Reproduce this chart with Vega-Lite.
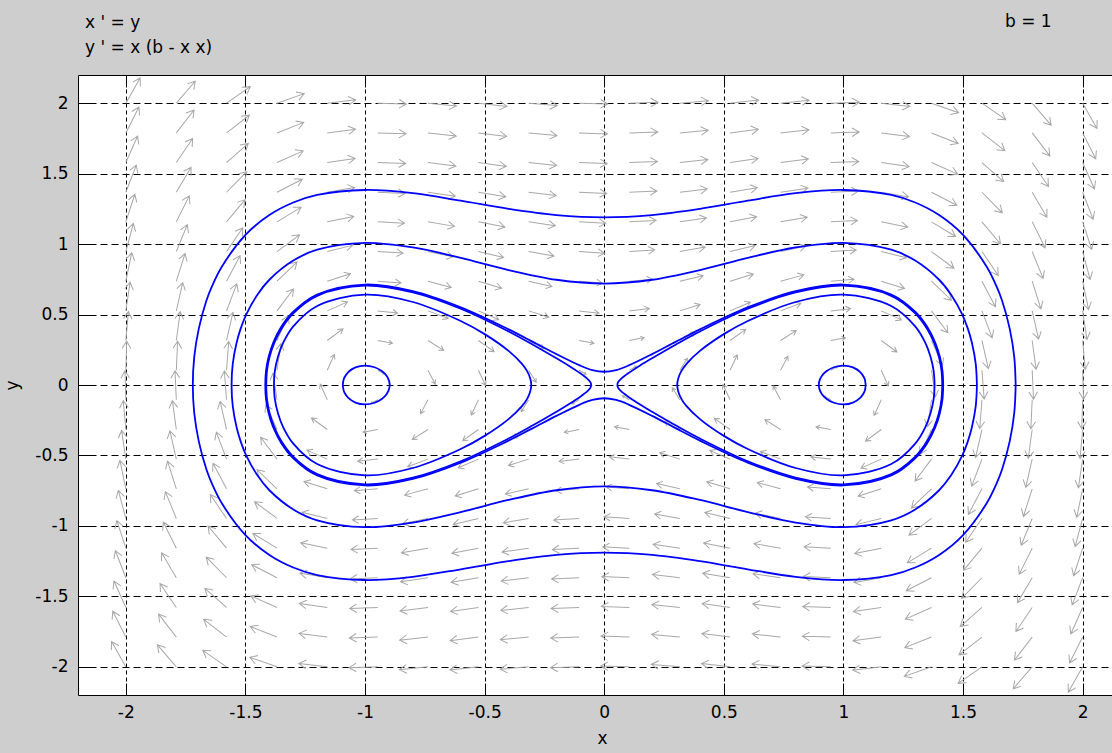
{
"$schema": "https://vega.github.io/schema/vega-lite/v6.json",
"width": 1034,
"height": 620,
"autosize": "none",
"padding": {"left": 78, "top": 75, "right": 0, "bottom": 58},
"background": "#cecece",
"config": {"view": {"stroke": null, "fill": "#ffffff"}, "font": "DejaVu Sans"},
"datasets": {
"field": [
{"x":-2,"y":2,"u":2,"v":6},{"x":-1.789,"y":2,"u":2,"v":3.941},{"x":-1.579,"y":2,"u":2,"v":2.357},{"x":-1.368,"y":2,"u":2,"v":1.194},{"x":-1.158,"y":2,"u":2,"v":0.395},{"x":-0.947,"y":2,"u":2,"v":-0.097},{"x":-0.737,"y":2,"u":2,"v":-0.337},{"x":-0.526,"y":2,"u":2,"v":-0.381},{"x":-0.316,"y":2,"u":2,"v":-0.284},{"x":-0.105,"y":2,"u":2,"v":-0.104},{"x":0.105,"y":2,"u":2,"v":0.104},{"x":0.316,"y":2,"u":2,"v":0.284},{"x":0.526,"y":2,"u":2,"v":0.381},{"x":0.737,"y":2,"u":2,"v":0.337},{"x":0.947,"y":2,"u":2,"v":0.097},{"x":1.158,"y":2,"u":2,"v":-0.395},{"x":1.368,"y":2,"u":2,"v":-1.194},{"x":1.579,"y":2,"u":2,"v":-2.357},{"x":1.789,"y":2,"u":2,"v":-3.941},{"x":2,"y":2,"u":2,"v":-6},
{"x":-2,"y":1.789,"u":1.789,"v":6},{"x":-1.789,"y":1.789,"u":1.789,"v":3.941},{"x":-1.579,"y":1.789,"u":1.789,"v":2.357},{"x":-1.368,"y":1.789,"u":1.789,"v":1.194},{"x":-1.158,"y":1.789,"u":1.789,"v":0.395},{"x":-0.947,"y":1.789,"u":1.789,"v":-0.097},{"x":-0.737,"y":1.789,"u":1.789,"v":-0.337},{"x":-0.526,"y":1.789,"u":1.789,"v":-0.381},{"x":-0.316,"y":1.789,"u":1.789,"v":-0.284},{"x":-0.105,"y":1.789,"u":1.789,"v":-0.104},{"x":0.105,"y":1.789,"u":1.789,"v":0.104},{"x":0.316,"y":1.789,"u":1.789,"v":0.284},{"x":0.526,"y":1.789,"u":1.789,"v":0.381},{"x":0.737,"y":1.789,"u":1.789,"v":0.337},{"x":0.947,"y":1.789,"u":1.789,"v":0.097},{"x":1.158,"y":1.789,"u":1.789,"v":-0.395},{"x":1.368,"y":1.789,"u":1.789,"v":-1.194},{"x":1.579,"y":1.789,"u":1.789,"v":-2.357},{"x":1.789,"y":1.789,"u":1.789,"v":-3.941},{"x":2,"y":1.789,"u":1.789,"v":-6},
{"x":-2,"y":1.579,"u":1.579,"v":6},{"x":-1.789,"y":1.579,"u":1.579,"v":3.941},{"x":-1.579,"y":1.579,"u":1.579,"v":2.357},{"x":-1.368,"y":1.579,"u":1.579,"v":1.194},{"x":-1.158,"y":1.579,"u":1.579,"v":0.395},{"x":-0.947,"y":1.579,"u":1.579,"v":-0.097},{"x":-0.737,"y":1.579,"u":1.579,"v":-0.337},{"x":-0.526,"y":1.579,"u":1.579,"v":-0.381},{"x":-0.316,"y":1.579,"u":1.579,"v":-0.284},{"x":-0.105,"y":1.579,"u":1.579,"v":-0.104},{"x":0.105,"y":1.579,"u":1.579,"v":0.104},{"x":0.316,"y":1.579,"u":1.579,"v":0.284},{"x":0.526,"y":1.579,"u":1.579,"v":0.381},{"x":0.737,"y":1.579,"u":1.579,"v":0.337},{"x":0.947,"y":1.579,"u":1.579,"v":0.097},{"x":1.158,"y":1.579,"u":1.579,"v":-0.395},{"x":1.368,"y":1.579,"u":1.579,"v":-1.194},{"x":1.579,"y":1.579,"u":1.579,"v":-2.357},{"x":1.789,"y":1.579,"u":1.579,"v":-3.941},{"x":2,"y":1.579,"u":1.579,"v":-6},
{"x":-2,"y":1.368,"u":1.368,"v":6},{"x":-1.789,"y":1.368,"u":1.368,"v":3.941},{"x":-1.579,"y":1.368,"u":1.368,"v":2.357},{"x":-1.368,"y":1.368,"u":1.368,"v":1.194},{"x":-1.158,"y":1.368,"u":1.368,"v":0.395},{"x":-0.947,"y":1.368,"u":1.368,"v":-0.097},{"x":-0.737,"y":1.368,"u":1.368,"v":-0.337},{"x":-0.526,"y":1.368,"u":1.368,"v":-0.381},{"x":-0.316,"y":1.368,"u":1.368,"v":-0.284},{"x":-0.105,"y":1.368,"u":1.368,"v":-0.104},{"x":0.105,"y":1.368,"u":1.368,"v":0.104},{"x":0.316,"y":1.368,"u":1.368,"v":0.284},{"x":0.526,"y":1.368,"u":1.368,"v":0.381},{"x":0.737,"y":1.368,"u":1.368,"v":0.337},{"x":0.947,"y":1.368,"u":1.368,"v":0.097},{"x":1.158,"y":1.368,"u":1.368,"v":-0.395},{"x":1.368,"y":1.368,"u":1.368,"v":-1.194},{"x":1.579,"y":1.368,"u":1.368,"v":-2.357},{"x":1.789,"y":1.368,"u":1.368,"v":-3.941},{"x":2,"y":1.368,"u":1.368,"v":-6},
{"x":-2,"y":1.158,"u":1.158,"v":6},{"x":-1.789,"y":1.158,"u":1.158,"v":3.941},{"x":-1.579,"y":1.158,"u":1.158,"v":2.357},{"x":-1.368,"y":1.158,"u":1.158,"v":1.194},{"x":-1.158,"y":1.158,"u":1.158,"v":0.395},{"x":-0.947,"y":1.158,"u":1.158,"v":-0.097},{"x":-0.737,"y":1.158,"u":1.158,"v":-0.337},{"x":-0.526,"y":1.158,"u":1.158,"v":-0.381},{"x":-0.316,"y":1.158,"u":1.158,"v":-0.284},{"x":-0.105,"y":1.158,"u":1.158,"v":-0.104},{"x":0.105,"y":1.158,"u":1.158,"v":0.104},{"x":0.316,"y":1.158,"u":1.158,"v":0.284},{"x":0.526,"y":1.158,"u":1.158,"v":0.381},{"x":0.737,"y":1.158,"u":1.158,"v":0.337},{"x":0.947,"y":1.158,"u":1.158,"v":0.097},{"x":1.158,"y":1.158,"u":1.158,"v":-0.395},{"x":1.368,"y":1.158,"u":1.158,"v":-1.194},{"x":1.579,"y":1.158,"u":1.158,"v":-2.357},{"x":1.789,"y":1.158,"u":1.158,"v":-3.941},{"x":2,"y":1.158,"u":1.158,"v":-6},
{"x":-2,"y":0.947,"u":0.947,"v":6},{"x":-1.789,"y":0.947,"u":0.947,"v":3.941},{"x":-1.579,"y":0.947,"u":0.947,"v":2.357},{"x":-1.368,"y":0.947,"u":0.947,"v":1.194},{"x":-1.158,"y":0.947,"u":0.947,"v":0.395},{"x":-0.947,"y":0.947,"u":0.947,"v":-0.097},{"x":-0.737,"y":0.947,"u":0.947,"v":-0.337},{"x":-0.526,"y":0.947,"u":0.947,"v":-0.381},{"x":-0.316,"y":0.947,"u":0.947,"v":-0.284},{"x":-0.105,"y":0.947,"u":0.947,"v":-0.104},{"x":0.105,"y":0.947,"u":0.947,"v":0.104},{"x":0.316,"y":0.947,"u":0.947,"v":0.284},{"x":0.526,"y":0.947,"u":0.947,"v":0.381},{"x":0.737,"y":0.947,"u":0.947,"v":0.337},{"x":0.947,"y":0.947,"u":0.947,"v":0.097},{"x":1.158,"y":0.947,"u":0.947,"v":-0.395},{"x":1.368,"y":0.947,"u":0.947,"v":-1.194},{"x":1.579,"y":0.947,"u":0.947,"v":-2.357},{"x":1.789,"y":0.947,"u":0.947,"v":-3.941},{"x":2,"y":0.947,"u":0.947,"v":-6},
{"x":-2,"y":0.737,"u":0.737,"v":6},{"x":-1.789,"y":0.737,"u":0.737,"v":3.941},{"x":-1.579,"y":0.737,"u":0.737,"v":2.357},{"x":-1.368,"y":0.737,"u":0.737,"v":1.194},{"x":-1.158,"y":0.737,"u":0.737,"v":0.395},{"x":-0.947,"y":0.737,"u":0.737,"v":-0.097},{"x":-0.737,"y":0.737,"u":0.737,"v":-0.337},{"x":-0.526,"y":0.737,"u":0.737,"v":-0.381},{"x":-0.316,"y":0.737,"u":0.737,"v":-0.284},{"x":-0.105,"y":0.737,"u":0.737,"v":-0.104},{"x":0.105,"y":0.737,"u":0.737,"v":0.104},{"x":0.316,"y":0.737,"u":0.737,"v":0.284},{"x":0.526,"y":0.737,"u":0.737,"v":0.381},{"x":0.737,"y":0.737,"u":0.737,"v":0.337},{"x":0.947,"y":0.737,"u":0.737,"v":0.097},{"x":1.158,"y":0.737,"u":0.737,"v":-0.395},{"x":1.368,"y":0.737,"u":0.737,"v":-1.194},{"x":1.579,"y":0.737,"u":0.737,"v":-2.357},{"x":1.789,"y":0.737,"u":0.737,"v":-3.941},{"x":2,"y":0.737,"u":0.737,"v":-6},
{"x":-2,"y":0.526,"u":0.526,"v":6},{"x":-1.789,"y":0.526,"u":0.526,"v":3.941},{"x":-1.579,"y":0.526,"u":0.526,"v":2.357},{"x":-1.368,"y":0.526,"u":0.526,"v":1.194},{"x":-1.158,"y":0.526,"u":0.526,"v":0.395},{"x":-0.947,"y":0.526,"u":0.526,"v":-0.097},{"x":-0.737,"y":0.526,"u":0.526,"v":-0.337},{"x":-0.526,"y":0.526,"u":0.526,"v":-0.381},{"x":-0.316,"y":0.526,"u":0.526,"v":-0.284},{"x":-0.105,"y":0.526,"u":0.526,"v":-0.104},{"x":0.105,"y":0.526,"u":0.526,"v":0.104},{"x":0.316,"y":0.526,"u":0.526,"v":0.284},{"x":0.526,"y":0.526,"u":0.526,"v":0.381},{"x":0.737,"y":0.526,"u":0.526,"v":0.337},{"x":0.947,"y":0.526,"u":0.526,"v":0.097},{"x":1.158,"y":0.526,"u":0.526,"v":-0.395},{"x":1.368,"y":0.526,"u":0.526,"v":-1.194},{"x":1.579,"y":0.526,"u":0.526,"v":-2.357},{"x":1.789,"y":0.526,"u":0.526,"v":-3.941},{"x":2,"y":0.526,"u":0.526,"v":-6},
{"x":-2,"y":0.316,"u":0.316,"v":6},{"x":-1.789,"y":0.316,"u":0.316,"v":3.941},{"x":-1.579,"y":0.316,"u":0.316,"v":2.357},{"x":-1.368,"y":0.316,"u":0.316,"v":1.194},{"x":-1.158,"y":0.316,"u":0.316,"v":0.395},{"x":-0.947,"y":0.316,"u":0.316,"v":-0.097},{"x":-0.737,"y":0.316,"u":0.316,"v":-0.337},{"x":-0.526,"y":0.316,"u":0.316,"v":-0.381},{"x":-0.316,"y":0.316,"u":0.316,"v":-0.284},{"x":-0.105,"y":0.316,"u":0.316,"v":-0.104},{"x":0.105,"y":0.316,"u":0.316,"v":0.104},{"x":0.316,"y":0.316,"u":0.316,"v":0.284},{"x":0.526,"y":0.316,"u":0.316,"v":0.381},{"x":0.737,"y":0.316,"u":0.316,"v":0.337},{"x":0.947,"y":0.316,"u":0.316,"v":0.097},{"x":1.158,"y":0.316,"u":0.316,"v":-0.395},{"x":1.368,"y":0.316,"u":0.316,"v":-1.194},{"x":1.579,"y":0.316,"u":0.316,"v":-2.357},{"x":1.789,"y":0.316,"u":0.316,"v":-3.941},{"x":2,"y":0.316,"u":0.316,"v":-6},
{"x":-2,"y":0.105,"u":0.105,"v":6},{"x":-1.789,"y":0.105,"u":0.105,"v":3.941},{"x":-1.579,"y":0.105,"u":0.105,"v":2.357},{"x":-1.368,"y":0.105,"u":0.105,"v":1.194},{"x":-1.158,"y":0.105,"u":0.105,"v":0.395},{"x":-0.947,"y":0.105,"u":0.105,"v":-0.097},{"x":-0.737,"y":0.105,"u":0.105,"v":-0.337},{"x":-0.526,"y":0.105,"u":0.105,"v":-0.381},{"x":-0.316,"y":0.105,"u":0.105,"v":-0.284},{"x":-0.105,"y":0.105,"u":0.105,"v":-0.104},{"x":0.105,"y":0.105,"u":0.105,"v":0.104},{"x":0.316,"y":0.105,"u":0.105,"v":0.284},{"x":0.526,"y":0.105,"u":0.105,"v":0.381},{"x":0.737,"y":0.105,"u":0.105,"v":0.337},{"x":0.947,"y":0.105,"u":0.105,"v":0.097},{"x":1.158,"y":0.105,"u":0.105,"v":-0.395},{"x":1.368,"y":0.105,"u":0.105,"v":-1.194},{"x":1.579,"y":0.105,"u":0.105,"v":-2.357},{"x":1.789,"y":0.105,"u":0.105,"v":-3.941},{"x":2,"y":0.105,"u":0.105,"v":-6},
{"x":-2,"y":-0.105,"u":-0.105,"v":6},{"x":-1.789,"y":-0.105,"u":-0.105,"v":3.941},{"x":-1.579,"y":-0.105,"u":-0.105,"v":2.357},{"x":-1.368,"y":-0.105,"u":-0.105,"v":1.194},{"x":-1.158,"y":-0.105,"u":-0.105,"v":0.395},{"x":-0.947,"y":-0.105,"u":-0.105,"v":-0.097},{"x":-0.737,"y":-0.105,"u":-0.105,"v":-0.337},{"x":-0.526,"y":-0.105,"u":-0.105,"v":-0.381},{"x":-0.316,"y":-0.105,"u":-0.105,"v":-0.284},{"x":-0.105,"y":-0.105,"u":-0.105,"v":-0.104},{"x":0.105,"y":-0.105,"u":-0.105,"v":0.104},{"x":0.316,"y":-0.105,"u":-0.105,"v":0.284},{"x":0.526,"y":-0.105,"u":-0.105,"v":0.381},{"x":0.737,"y":-0.105,"u":-0.105,"v":0.337},{"x":0.947,"y":-0.105,"u":-0.105,"v":0.097},{"x":1.158,"y":-0.105,"u":-0.105,"v":-0.395},{"x":1.368,"y":-0.105,"u":-0.105,"v":-1.194},{"x":1.579,"y":-0.105,"u":-0.105,"v":-2.357},{"x":1.789,"y":-0.105,"u":-0.105,"v":-3.941},{"x":2,"y":-0.105,"u":-0.105,"v":-6},
{"x":-2,"y":-0.316,"u":-0.316,"v":6},{"x":-1.789,"y":-0.316,"u":-0.316,"v":3.941},{"x":-1.579,"y":-0.316,"u":-0.316,"v":2.357},{"x":-1.368,"y":-0.316,"u":-0.316,"v":1.194},{"x":-1.158,"y":-0.316,"u":-0.316,"v":0.395},{"x":-0.947,"y":-0.316,"u":-0.316,"v":-0.097},{"x":-0.737,"y":-0.316,"u":-0.316,"v":-0.337},{"x":-0.526,"y":-0.316,"u":-0.316,"v":-0.381},{"x":-0.316,"y":-0.316,"u":-0.316,"v":-0.284},{"x":-0.105,"y":-0.316,"u":-0.316,"v":-0.104},{"x":0.105,"y":-0.316,"u":-0.316,"v":0.104},{"x":0.316,"y":-0.316,"u":-0.316,"v":0.284},{"x":0.526,"y":-0.316,"u":-0.316,"v":0.381},{"x":0.737,"y":-0.316,"u":-0.316,"v":0.337},{"x":0.947,"y":-0.316,"u":-0.316,"v":0.097},{"x":1.158,"y":-0.316,"u":-0.316,"v":-0.395},{"x":1.368,"y":-0.316,"u":-0.316,"v":-1.194},{"x":1.579,"y":-0.316,"u":-0.316,"v":-2.357},{"x":1.789,"y":-0.316,"u":-0.316,"v":-3.941},{"x":2,"y":-0.316,"u":-0.316,"v":-6},
{"x":-2,"y":-0.526,"u":-0.526,"v":6},{"x":-1.789,"y":-0.526,"u":-0.526,"v":3.941},{"x":-1.579,"y":-0.526,"u":-0.526,"v":2.357},{"x":-1.368,"y":-0.526,"u":-0.526,"v":1.194},{"x":-1.158,"y":-0.526,"u":-0.526,"v":0.395},{"x":-0.947,"y":-0.526,"u":-0.526,"v":-0.097},{"x":-0.737,"y":-0.526,"u":-0.526,"v":-0.337},{"x":-0.526,"y":-0.526,"u":-0.526,"v":-0.381},{"x":-0.316,"y":-0.526,"u":-0.526,"v":-0.284},{"x":-0.105,"y":-0.526,"u":-0.526,"v":-0.104},{"x":0.105,"y":-0.526,"u":-0.526,"v":0.104},{"x":0.316,"y":-0.526,"u":-0.526,"v":0.284},{"x":0.526,"y":-0.526,"u":-0.526,"v":0.381},{"x":0.737,"y":-0.526,"u":-0.526,"v":0.337},{"x":0.947,"y":-0.526,"u":-0.526,"v":0.097},{"x":1.158,"y":-0.526,"u":-0.526,"v":-0.395},{"x":1.368,"y":-0.526,"u":-0.526,"v":-1.194},{"x":1.579,"y":-0.526,"u":-0.526,"v":-2.357},{"x":1.789,"y":-0.526,"u":-0.526,"v":-3.941},{"x":2,"y":-0.526,"u":-0.526,"v":-6},
{"x":-2,"y":-0.737,"u":-0.737,"v":6},{"x":-1.789,"y":-0.737,"u":-0.737,"v":3.941},{"x":-1.579,"y":-0.737,"u":-0.737,"v":2.357},{"x":-1.368,"y":-0.737,"u":-0.737,"v":1.194},{"x":-1.158,"y":-0.737,"u":-0.737,"v":0.395},{"x":-0.947,"y":-0.737,"u":-0.737,"v":-0.097},{"x":-0.737,"y":-0.737,"u":-0.737,"v":-0.337},{"x":-0.526,"y":-0.737,"u":-0.737,"v":-0.381},{"x":-0.316,"y":-0.737,"u":-0.737,"v":-0.284},{"x":-0.105,"y":-0.737,"u":-0.737,"v":-0.104},{"x":0.105,"y":-0.737,"u":-0.737,"v":0.104},{"x":0.316,"y":-0.737,"u":-0.737,"v":0.284},{"x":0.526,"y":-0.737,"u":-0.737,"v":0.381},{"x":0.737,"y":-0.737,"u":-0.737,"v":0.337},{"x":0.947,"y":-0.737,"u":-0.737,"v":0.097},{"x":1.158,"y":-0.737,"u":-0.737,"v":-0.395},{"x":1.368,"y":-0.737,"u":-0.737,"v":-1.194},{"x":1.579,"y":-0.737,"u":-0.737,"v":-2.357},{"x":1.789,"y":-0.737,"u":-0.737,"v":-3.941},{"x":2,"y":-0.737,"u":-0.737,"v":-6},
{"x":-2,"y":-0.947,"u":-0.947,"v":6},{"x":-1.789,"y":-0.947,"u":-0.947,"v":3.941},{"x":-1.579,"y":-0.947,"u":-0.947,"v":2.357},{"x":-1.368,"y":-0.947,"u":-0.947,"v":1.194},{"x":-1.158,"y":-0.947,"u":-0.947,"v":0.395},{"x":-0.947,"y":-0.947,"u":-0.947,"v":-0.097},{"x":-0.737,"y":-0.947,"u":-0.947,"v":-0.337},{"x":-0.526,"y":-0.947,"u":-0.947,"v":-0.381},{"x":-0.316,"y":-0.947,"u":-0.947,"v":-0.284},{"x":-0.105,"y":-0.947,"u":-0.947,"v":-0.104},{"x":0.105,"y":-0.947,"u":-0.947,"v":0.104},{"x":0.316,"y":-0.947,"u":-0.947,"v":0.284},{"x":0.526,"y":-0.947,"u":-0.947,"v":0.381},{"x":0.737,"y":-0.947,"u":-0.947,"v":0.337},{"x":0.947,"y":-0.947,"u":-0.947,"v":0.097},{"x":1.158,"y":-0.947,"u":-0.947,"v":-0.395},{"x":1.368,"y":-0.947,"u":-0.947,"v":-1.194},{"x":1.579,"y":-0.947,"u":-0.947,"v":-2.357},{"x":1.789,"y":-0.947,"u":-0.947,"v":-3.941},{"x":2,"y":-0.947,"u":-0.947,"v":-6},
{"x":-2,"y":-1.158,"u":-1.158,"v":6},{"x":-1.789,"y":-1.158,"u":-1.158,"v":3.941},{"x":-1.579,"y":-1.158,"u":-1.158,"v":2.357},{"x":-1.368,"y":-1.158,"u":-1.158,"v":1.194},{"x":-1.158,"y":-1.158,"u":-1.158,"v":0.395},{"x":-0.947,"y":-1.158,"u":-1.158,"v":-0.097},{"x":-0.737,"y":-1.158,"u":-1.158,"v":-0.337},{"x":-0.526,"y":-1.158,"u":-1.158,"v":-0.381},{"x":-0.316,"y":-1.158,"u":-1.158,"v":-0.284},{"x":-0.105,"y":-1.158,"u":-1.158,"v":-0.104},{"x":0.105,"y":-1.158,"u":-1.158,"v":0.104},{"x":0.316,"y":-1.158,"u":-1.158,"v":0.284},{"x":0.526,"y":-1.158,"u":-1.158,"v":0.381},{"x":0.737,"y":-1.158,"u":-1.158,"v":0.337},{"x":0.947,"y":-1.158,"u":-1.158,"v":0.097},{"x":1.158,"y":-1.158,"u":-1.158,"v":-0.395},{"x":1.368,"y":-1.158,"u":-1.158,"v":-1.194},{"x":1.579,"y":-1.158,"u":-1.158,"v":-2.357},{"x":1.789,"y":-1.158,"u":-1.158,"v":-3.941},{"x":2,"y":-1.158,"u":-1.158,"v":-6},
{"x":-2,"y":-1.368,"u":-1.368,"v":6},{"x":-1.789,"y":-1.368,"u":-1.368,"v":3.941},{"x":-1.579,"y":-1.368,"u":-1.368,"v":2.357},{"x":-1.368,"y":-1.368,"u":-1.368,"v":1.194},{"x":-1.158,"y":-1.368,"u":-1.368,"v":0.395},{"x":-0.947,"y":-1.368,"u":-1.368,"v":-0.097},{"x":-0.737,"y":-1.368,"u":-1.368,"v":-0.337},{"x":-0.526,"y":-1.368,"u":-1.368,"v":-0.381},{"x":-0.316,"y":-1.368,"u":-1.368,"v":-0.284},{"x":-0.105,"y":-1.368,"u":-1.368,"v":-0.104},{"x":0.105,"y":-1.368,"u":-1.368,"v":0.104},{"x":0.316,"y":-1.368,"u":-1.368,"v":0.284},{"x":0.526,"y":-1.368,"u":-1.368,"v":0.381},{"x":0.737,"y":-1.368,"u":-1.368,"v":0.337},{"x":0.947,"y":-1.368,"u":-1.368,"v":0.097},{"x":1.158,"y":-1.368,"u":-1.368,"v":-0.395},{"x":1.368,"y":-1.368,"u":-1.368,"v":-1.194},{"x":1.579,"y":-1.368,"u":-1.368,"v":-2.357},{"x":1.789,"y":-1.368,"u":-1.368,"v":-3.941},{"x":2,"y":-1.368,"u":-1.368,"v":-6},
{"x":-2,"y":-1.579,"u":-1.579,"v":6},{"x":-1.789,"y":-1.579,"u":-1.579,"v":3.941},{"x":-1.579,"y":-1.579,"u":-1.579,"v":2.357},{"x":-1.368,"y":-1.579,"u":-1.579,"v":1.194},{"x":-1.158,"y":-1.579,"u":-1.579,"v":0.395},{"x":-0.947,"y":-1.579,"u":-1.579,"v":-0.097},{"x":-0.737,"y":-1.579,"u":-1.579,"v":-0.337},{"x":-0.526,"y":-1.579,"u":-1.579,"v":-0.381},{"x":-0.316,"y":-1.579,"u":-1.579,"v":-0.284},{"x":-0.105,"y":-1.579,"u":-1.579,"v":-0.104},{"x":0.105,"y":-1.579,"u":-1.579,"v":0.104},{"x":0.316,"y":-1.579,"u":-1.579,"v":0.284},{"x":0.526,"y":-1.579,"u":-1.579,"v":0.381},{"x":0.737,"y":-1.579,"u":-1.579,"v":0.337},{"x":0.947,"y":-1.579,"u":-1.579,"v":0.097},{"x":1.158,"y":-1.579,"u":-1.579,"v":-0.395},{"x":1.368,"y":-1.579,"u":-1.579,"v":-1.194},{"x":1.579,"y":-1.579,"u":-1.579,"v":-2.357},{"x":1.789,"y":-1.579,"u":-1.579,"v":-3.941},{"x":2,"y":-1.579,"u":-1.579,"v":-6},
{"x":-2,"y":-1.789,"u":-1.789,"v":6},{"x":-1.789,"y":-1.789,"u":-1.789,"v":3.941},{"x":-1.579,"y":-1.789,"u":-1.789,"v":2.357},{"x":-1.368,"y":-1.789,"u":-1.789,"v":1.194},{"x":-1.158,"y":-1.789,"u":-1.789,"v":0.395},{"x":-0.947,"y":-1.789,"u":-1.789,"v":-0.097},{"x":-0.737,"y":-1.789,"u":-1.789,"v":-0.337},{"x":-0.526,"y":-1.789,"u":-1.789,"v":-0.381},{"x":-0.316,"y":-1.789,"u":-1.789,"v":-0.284},{"x":-0.105,"y":-1.789,"u":-1.789,"v":-0.104},{"x":0.105,"y":-1.789,"u":-1.789,"v":0.104},{"x":0.316,"y":-1.789,"u":-1.789,"v":0.284},{"x":0.526,"y":-1.789,"u":-1.789,"v":0.381},{"x":0.737,"y":-1.789,"u":-1.789,"v":0.337},{"x":0.947,"y":-1.789,"u":-1.789,"v":0.097},{"x":1.158,"y":-1.789,"u":-1.789,"v":-0.395},{"x":1.368,"y":-1.789,"u":-1.789,"v":-1.194},{"x":1.579,"y":-1.789,"u":-1.789,"v":-2.357},{"x":1.789,"y":-1.789,"u":-1.789,"v":-3.941},{"x":2,"y":-1.789,"u":-1.789,"v":-6},
{"x":-2,"y":-2,"u":-2,"v":6},{"x":-1.789,"y":-2,"u":-2,"v":3.941},{"x":-1.579,"y":-2,"u":-2,"v":2.357},{"x":-1.368,"y":-2,"u":-2,"v":1.194},{"x":-1.158,"y":-2,"u":-2,"v":0.395},{"x":-0.947,"y":-2,"u":-2,"v":-0.097},{"x":-0.737,"y":-2,"u":-2,"v":-0.337},{"x":-0.526,"y":-2,"u":-2,"v":-0.381},{"x":-0.316,"y":-2,"u":-2,"v":-0.284},{"x":-0.105,"y":-2,"u":-2,"v":-0.104},{"x":0.105,"y":-2,"u":-2,"v":0.104},{"x":0.316,"y":-2,"u":-2,"v":0.284},{"x":0.526,"y":-2,"u":-2,"v":0.381},{"x":0.737,"y":-2,"u":-2,"v":0.337},{"x":0.947,"y":-2,"u":-2,"v":0.097},{"x":1.158,"y":-2,"u":-2,"v":-0.395},{"x":1.368,"y":-2,"u":-2,"v":-1.194},{"x":1.579,"y":-2,"u":-2,"v":-2.357},{"x":1.789,"y":-2,"u":-2,"v":-3.941},{"x":2,"y":-2,"u":-2,"v":-6}
],
"traj": [
{"c":"A","i":0,"x":1.72,"y":0},{"c":"A","i":1,"x":1.714,"y":0.2},{"c":"A","i":2,"x":1.695,"y":0.4},{"c":"A","i":3,"x":1.663,"y":0.6},{"c":"A","i":4,"x":1.64,"y":0.7},{"c":"A","i":5,"x":1.6,"y":0.836},{"c":"A","i":6,"x":1.5,"y":1.065},{"c":"A","i":7,"x":1.4,"y":1.206},{"c":"A","i":8,"x":1.3,"y":1.295},{"c":"A","i":9,"x":1.2,"y":1.349},{"c":"A","i":10,"x":1.0,"y":1.384},{"c":"A","i":11,"x":0.8,"y":1.361},{"c":"A","i":12,"x":0.6,"y":1.308},{"c":"A","i":13,"x":0.4,"y":1.25},{"c":"A","i":14,"x":0.2,"y":1.206},{"c":"A","i":15,"x":0,"y":1.19},{"c":"A","i":16,"x":-0.2,"y":1.206},{"c":"A","i":17,"x":-0.4,"y":1.25},{"c":"A","i":18,"x":-0.6,"y":1.308},{"c":"A","i":19,"x":-0.8,"y":1.361},{"c":"A","i":20,"x":-1.0,"y":1.384},{"c":"A","i":21,"x":-1.2,"y":1.349},{"c":"A","i":22,"x":-1.3,"y":1.295},{"c":"A","i":23,"x":-1.4,"y":1.206},{"c":"A","i":24,"x":-1.5,"y":1.065},{"c":"A","i":25,"x":-1.6,"y":0.836},{"c":"A","i":26,"x":-1.64,"y":0.7},{"c":"A","i":27,"x":-1.663,"y":0.6},{"c":"A","i":28,"x":-1.695,"y":0.4},{"c":"A","i":29,"x":-1.714,"y":0.2},{"c":"A","i":30,"x":-1.72,"y":0},{"c":"A","i":31,"x":-1.714,"y":-0.2},{"c":"A","i":32,"x":-1.695,"y":-0.4},{"c":"A","i":33,"x":-1.663,"y":-0.6},{"c":"A","i":34,"x":-1.64,"y":-0.7},{"c":"A","i":35,"x":-1.6,"y":-0.836},{"c":"A","i":36,"x":-1.5,"y":-1.065},{"c":"A","i":37,"x":-1.4,"y":-1.206},{"c":"A","i":38,"x":-1.3,"y":-1.295},{"c":"A","i":39,"x":-1.2,"y":-1.349},{"c":"A","i":40,"x":-1.0,"y":-1.384},{"c":"A","i":41,"x":-0.8,"y":-1.361},{"c":"A","i":42,"x":-0.6,"y":-1.308},{"c":"A","i":43,"x":-0.4,"y":-1.25},{"c":"A","i":44,"x":-0.2,"y":-1.206},{"c":"A","i":45,"x":0,"y":-1.19},{"c":"A","i":46,"x":0.2,"y":-1.206},{"c":"A","i":47,"x":0.4,"y":-1.25},{"c":"A","i":48,"x":0.6,"y":-1.308},{"c":"A","i":49,"x":0.8,"y":-1.361},{"c":"A","i":50,"x":1.0,"y":-1.384},{"c":"A","i":51,"x":1.2,"y":-1.349},{"c":"A","i":52,"x":1.3,"y":-1.295},{"c":"A","i":53,"x":1.4,"y":-1.206},{"c":"A","i":54,"x":1.5,"y":-1.065},{"c":"A","i":55,"x":1.6,"y":-0.836},{"c":"A","i":56,"x":1.64,"y":-0.7},{"c":"A","i":57,"x":1.663,"y":-0.6},{"c":"A","i":58,"x":1.695,"y":-0.4},{"c":"A","i":59,"x":1.714,"y":-0.2},{"c":"A","i":60,"x":1.72,"y":0},
{"c":"B","i":0,"x":1.558,"y":0},{"c":"B","i":1,"x":1.553,"y":0.15},{"c":"B","i":2,"x":1.537,"y":0.3},{"c":"B","i":3,"x":1.52,"y":0.4},{"c":"B","i":4,"x":1.497,"y":0.5},{"c":"B","i":5,"x":1.45,"y":0.641},{"c":"B","i":6,"x":1.4,"y":0.747},{"c":"B","i":7,"x":1.3,"y":0.883},{"c":"B","i":8,"x":1.2,"y":0.96},{"c":"B","i":9,"x":1,"y":1.009},{"c":"B","i":10,"x":0.8,"y":0.976},{"c":"B","i":11,"x":0.6,"y":0.902},{"c":"B","i":12,"x":0.4,"y":0.816},{"c":"B","i":13,"x":0.2,"y":0.747},{"c":"B","i":14,"x":0,"y":0.72},{"c":"B","i":15,"x":-0.2,"y":0.747},{"c":"B","i":16,"x":-0.4,"y":0.816},{"c":"B","i":17,"x":-0.6,"y":0.902},{"c":"B","i":18,"x":-0.8,"y":0.976},{"c":"B","i":19,"x":-1,"y":1.009},{"c":"B","i":20,"x":-1.2,"y":0.96},{"c":"B","i":21,"x":-1.3,"y":0.883},{"c":"B","i":22,"x":-1.4,"y":0.747},{"c":"B","i":23,"x":-1.45,"y":0.641},{"c":"B","i":24,"x":-1.497,"y":0.5},{"c":"B","i":25,"x":-1.52,"y":0.4},{"c":"B","i":26,"x":-1.537,"y":0.3},{"c":"B","i":27,"x":-1.553,"y":0.15},{"c":"B","i":28,"x":-1.558,"y":0},{"c":"B","i":29,"x":-1.553,"y":-0.15},{"c":"B","i":30,"x":-1.537,"y":-0.3},{"c":"B","i":31,"x":-1.52,"y":-0.4},{"c":"B","i":32,"x":-1.497,"y":-0.5},{"c":"B","i":33,"x":-1.45,"y":-0.641},{"c":"B","i":34,"x":-1.4,"y":-0.747},{"c":"B","i":35,"x":-1.3,"y":-0.883},{"c":"B","i":36,"x":-1.2,"y":-0.96},{"c":"B","i":37,"x":-1,"y":-1.009},{"c":"B","i":38,"x":-0.8,"y":-0.976},{"c":"B","i":39,"x":-0.6,"y":-0.902},{"c":"B","i":40,"x":-0.4,"y":-0.816},{"c":"B","i":41,"x":-0.2,"y":-0.747},{"c":"B","i":42,"x":0,"y":-0.72},{"c":"B","i":43,"x":0.2,"y":-0.747},{"c":"B","i":44,"x":0.4,"y":-0.816},{"c":"B","i":45,"x":0.6,"y":-0.902},{"c":"B","i":46,"x":0.8,"y":-0.976},{"c":"B","i":47,"x":1,"y":-1.009},{"c":"B","i":48,"x":1.2,"y":-0.96},{"c":"B","i":49,"x":1.3,"y":-0.883},{"c":"B","i":50,"x":1.4,"y":-0.747},{"c":"B","i":51,"x":1.45,"y":-0.641},{"c":"B","i":52,"x":1.497,"y":-0.5},{"c":"B","i":53,"x":1.52,"y":-0.4},{"c":"B","i":54,"x":1.537,"y":-0.3},{"c":"B","i":55,"x":1.553,"y":-0.15},{"c":"B","i":56,"x":1.558,"y":0},
{"c":"C","i":0,"x":1.417,"y":0},{"c":"C","i":1,"x":1.414,"y":0.1},{"c":"C","i":2,"x":1.403,"y":0.2},{"c":"C","i":3,"x":1.384,"y":0.3},{"c":"C","i":4,"x":1.35,"y":0.413},{"c":"C","i":5,"x":1.3,"y":0.52},{"c":"C","i":6,"x":1.2,"y":0.642},{"c":"C","i":7,"x":1,"y":0.713},{"c":"C","i":8,"x":0.8,"y":0.666},{"c":"C","i":9,"x":0.6,"y":0.551},{"c":"C","i":10,"x":0.4,"y":0.395},{"c":"C","i":11,"x":0.3,"y":0.308},{"c":"C","i":12,"x":0.2,"y":0.219},{"c":"C","i":13,"x":0.1,"y":0.137},{"c":"C","i":14,"x":0.05,"y":0.106},{"c":"C","i":15,"x":0,"y":0.094},{"c":"C","i":16,"x":-0.05,"y":0.106},{"c":"C","i":17,"x":-0.1,"y":0.137},{"c":"C","i":18,"x":-0.2,"y":0.219},{"c":"C","i":19,"x":-0.3,"y":0.308},{"c":"C","i":20,"x":-0.4,"y":0.395},{"c":"C","i":21,"x":-0.6,"y":0.551},{"c":"C","i":22,"x":-0.8,"y":0.666},{"c":"C","i":23,"x":-1,"y":0.713},{"c":"C","i":24,"x":-1.2,"y":0.642},{"c":"C","i":25,"x":-1.3,"y":0.52},{"c":"C","i":26,"x":-1.35,"y":0.413},{"c":"C","i":27,"x":-1.384,"y":0.3},{"c":"C","i":28,"x":-1.403,"y":0.2},{"c":"C","i":29,"x":-1.414,"y":0.1},{"c":"C","i":30,"x":-1.417,"y":0},{"c":"C","i":31,"x":-1.414,"y":-0.1},{"c":"C","i":32,"x":-1.403,"y":-0.2},{"c":"C","i":33,"x":-1.384,"y":-0.3},{"c":"C","i":34,"x":-1.35,"y":-0.413},{"c":"C","i":35,"x":-1.3,"y":-0.52},{"c":"C","i":36,"x":-1.2,"y":-0.642},{"c":"C","i":37,"x":-1,"y":-0.713},{"c":"C","i":38,"x":-0.8,"y":-0.666},{"c":"C","i":39,"x":-0.6,"y":-0.551},{"c":"C","i":40,"x":-0.4,"y":-0.395},{"c":"C","i":41,"x":-0.3,"y":-0.308},{"c":"C","i":42,"x":-0.2,"y":-0.219},{"c":"C","i":43,"x":-0.1,"y":-0.137},{"c":"C","i":44,"x":-0.05,"y":-0.106},{"c":"C","i":45,"x":0,"y":-0.094},{"c":"C","i":46,"x":0.05,"y":-0.106},{"c":"C","i":47,"x":0.1,"y":-0.137},{"c":"C","i":48,"x":0.2,"y":-0.219},{"c":"C","i":49,"x":0.3,"y":-0.308},{"c":"C","i":50,"x":0.4,"y":-0.395},{"c":"C","i":51,"x":0.6,"y":-0.551},{"c":"C","i":52,"x":0.8,"y":-0.666},{"c":"C","i":53,"x":1,"y":-0.713},{"c":"C","i":54,"x":1.2,"y":-0.642},{"c":"C","i":55,"x":1.3,"y":-0.52},{"c":"C","i":56,"x":1.35,"y":-0.413},{"c":"C","i":57,"x":1.384,"y":-0.3},{"c":"C","i":58,"x":1.403,"y":-0.2},{"c":"C","i":59,"x":1.414,"y":-0.1},{"c":"C","i":60,"x":1.417,"y":0},
{"c":"DR","i":0,"x":1.413,"y":0},{"c":"DR","i":1,"x":1.41,"y":0.1},{"c":"DR","i":2,"x":1.399,"y":0.2},{"c":"DR","i":3,"x":1.379,"y":0.3},{"c":"DR","i":4,"x":1.35,"y":0.398},{"c":"DR","i":5,"x":1.3,"y":0.509},{"c":"DR","i":6,"x":1.2,"y":0.633},{"c":"DR","i":7,"x":1,"y":0.705},{"c":"DR","i":8,"x":0.8,"y":0.657},{"c":"DR","i":9,"x":0.6,"y":0.541},{"c":"DR","i":10,"x":0.4,"y":0.38},{"c":"DR","i":11,"x":0.3,"y":0.288},{"c":"DR","i":12,"x":0.2,"y":0.19},{"c":"DR","i":13,"x":0.15,"y":0.139},{"c":"DR","i":14,"x":0.1,"y":0.083},{"c":"DR","i":15,"x":0.068,"y":0.04},{"c":"DR","i":16,"x":0.058,"y":0.02},{"c":"DR","i":17,"x":0.055,"y":0},{"c":"DR","i":18,"x":0.058,"y":-0.02},{"c":"DR","i":19,"x":0.068,"y":-0.04},{"c":"DR","i":20,"x":0.1,"y":-0.083},{"c":"DR","i":21,"x":0.15,"y":-0.139},{"c":"DR","i":22,"x":0.2,"y":-0.19},{"c":"DR","i":23,"x":0.3,"y":-0.288},{"c":"DR","i":24,"x":0.4,"y":-0.38},{"c":"DR","i":25,"x":0.6,"y":-0.541},{"c":"DR","i":26,"x":0.8,"y":-0.657},{"c":"DR","i":27,"x":1,"y":-0.705},{"c":"DR","i":28,"x":1.2,"y":-0.633},{"c":"DR","i":29,"x":1.3,"y":-0.509},{"c":"DR","i":30,"x":1.35,"y":-0.398},{"c":"DR","i":31,"x":1.379,"y":-0.3},{"c":"DR","i":32,"x":1.399,"y":-0.2},{"c":"DR","i":33,"x":1.41,"y":-0.1},{"c":"DR","i":34,"x":1.413,"y":0},
{"c":"DL","i":0,"x":-1.413,"y":0},{"c":"DL","i":1,"x":-1.41,"y":0.1},{"c":"DL","i":2,"x":-1.399,"y":0.2},{"c":"DL","i":3,"x":-1.379,"y":0.3},{"c":"DL","i":4,"x":-1.35,"y":0.398},{"c":"DL","i":5,"x":-1.3,"y":0.509},{"c":"DL","i":6,"x":-1.2,"y":0.633},{"c":"DL","i":7,"x":-1,"y":0.705},{"c":"DL","i":8,"x":-0.8,"y":0.657},{"c":"DL","i":9,"x":-0.6,"y":0.541},{"c":"DL","i":10,"x":-0.4,"y":0.38},{"c":"DL","i":11,"x":-0.3,"y":0.288},{"c":"DL","i":12,"x":-0.2,"y":0.19},{"c":"DL","i":13,"x":-0.15,"y":0.139},{"c":"DL","i":14,"x":-0.1,"y":0.083},{"c":"DL","i":15,"x":-0.068,"y":0.04},{"c":"DL","i":16,"x":-0.058,"y":0.02},{"c":"DL","i":17,"x":-0.055,"y":0},{"c":"DL","i":18,"x":-0.058,"y":-0.02},{"c":"DL","i":19,"x":-0.068,"y":-0.04},{"c":"DL","i":20,"x":-0.1,"y":-0.083},{"c":"DL","i":21,"x":-0.15,"y":-0.139},{"c":"DL","i":22,"x":-0.2,"y":-0.19},{"c":"DL","i":23,"x":-0.3,"y":-0.288},{"c":"DL","i":24,"x":-0.4,"y":-0.38},{"c":"DL","i":25,"x":-0.6,"y":-0.541},{"c":"DL","i":26,"x":-0.8,"y":-0.657},{"c":"DL","i":27,"x":-1,"y":-0.705},{"c":"DL","i":28,"x":-1.2,"y":-0.633},{"c":"DL","i":29,"x":-1.3,"y":-0.509},{"c":"DL","i":30,"x":-1.35,"y":-0.398},{"c":"DL","i":31,"x":-1.379,"y":-0.3},{"c":"DL","i":32,"x":-1.399,"y":-0.2},{"c":"DL","i":33,"x":-1.41,"y":-0.1},{"c":"DL","i":34,"x":-1.413,"y":0},
{"c":"ER","i":0,"x":1.381,"y":0},{"c":"ER","i":1,"x":1.377,"y":0.1},{"c":"ER","i":2,"x":1.364,"y":0.2},{"c":"ER","i":3,"x":1.342,"y":0.3},{"c":"ER","i":4,"x":1.3,"y":0.416},{"c":"ER","i":5,"x":1.2,"y":0.561},{"c":"ER","i":6,"x":1,"y":0.641},{"c":"ER","i":7,"x":0.8,"y":0.589},{"c":"ER","i":8,"x":0.6,"y":0.454},{"c":"ER","i":9,"x":0.5,"y":0.361},{"c":"ER","i":10,"x":0.4,"y":0.242},{"c":"ER","i":11,"x":0.344,"y":0.15},{"c":"ER","i":12,"x":0.323,"y":0.1},{"c":"ER","i":13,"x":0.31,"y":0.05},{"c":"ER","i":14,"x":0.305,"y":0},{"c":"ER","i":15,"x":0.31,"y":-0.05},{"c":"ER","i":16,"x":0.323,"y":-0.1},{"c":"ER","i":17,"x":0.344,"y":-0.15},{"c":"ER","i":18,"x":0.4,"y":-0.242},{"c":"ER","i":19,"x":0.5,"y":-0.361},{"c":"ER","i":20,"x":0.6,"y":-0.454},{"c":"ER","i":21,"x":0.8,"y":-0.589},{"c":"ER","i":22,"x":1,"y":-0.641},{"c":"ER","i":23,"x":1.2,"y":-0.561},{"c":"ER","i":24,"x":1.3,"y":-0.416},{"c":"ER","i":25,"x":1.342,"y":-0.3},{"c":"ER","i":26,"x":1.364,"y":-0.2},{"c":"ER","i":27,"x":1.377,"y":-0.1},{"c":"ER","i":28,"x":1.381,"y":0},
{"c":"EL","i":0,"x":-1.381,"y":0},{"c":"EL","i":1,"x":-1.377,"y":0.1},{"c":"EL","i":2,"x":-1.364,"y":0.2},{"c":"EL","i":3,"x":-1.342,"y":0.3},{"c":"EL","i":4,"x":-1.3,"y":0.416},{"c":"EL","i":5,"x":-1.2,"y":0.561},{"c":"EL","i":6,"x":-1,"y":0.641},{"c":"EL","i":7,"x":-0.8,"y":0.589},{"c":"EL","i":8,"x":-0.6,"y":0.454},{"c":"EL","i":9,"x":-0.5,"y":0.361},{"c":"EL","i":10,"x":-0.4,"y":0.242},{"c":"EL","i":11,"x":-0.344,"y":0.15},{"c":"EL","i":12,"x":-0.323,"y":0.1},{"c":"EL","i":13,"x":-0.31,"y":0.05},{"c":"EL","i":14,"x":-0.305,"y":0},{"c":"EL","i":15,"x":-0.31,"y":-0.05},{"c":"EL","i":16,"x":-0.323,"y":-0.1},{"c":"EL","i":17,"x":-0.344,"y":-0.15},{"c":"EL","i":18,"x":-0.4,"y":-0.242},{"c":"EL","i":19,"x":-0.5,"y":-0.361},{"c":"EL","i":20,"x":-0.6,"y":-0.454},{"c":"EL","i":21,"x":-0.8,"y":-0.589},{"c":"EL","i":22,"x":-1,"y":-0.641},{"c":"EL","i":23,"x":-1.2,"y":-0.561},{"c":"EL","i":24,"x":-1.3,"y":-0.416},{"c":"EL","i":25,"x":-1.342,"y":-0.3},{"c":"EL","i":26,"x":-1.364,"y":-0.2},{"c":"EL","i":27,"x":-1.377,"y":-0.1},{"c":"EL","i":28,"x":-1.381,"y":0},
{"c":"FR","i":0,"x":1.093,"y":0},{"c":"FR","i":1,"x":1.09,"y":0.036},{"c":"FR","i":2,"x":1.085,"y":0.057},{"c":"FR","i":3,"x":1.07,"y":0.092},{"c":"FR","i":4,"x":1.04,"y":0.125},{"c":"FR","i":5,"x":1,"y":0.138},{"c":"FR","i":6,"x":0.96,"y":0.126},{"c":"FR","i":7,"x":0.93,"y":0.099},{"c":"FR","i":8,"x":0.91,"y":0.065},{"c":"FR","i":9,"x":0.9,"y":0.031},{"c":"FR","i":10,"x":0.897,"y":0},{"c":"FR","i":11,"x":0.9,"y":-0.031},{"c":"FR","i":12,"x":0.91,"y":-0.065},{"c":"FR","i":13,"x":0.93,"y":-0.099},{"c":"FR","i":14,"x":0.96,"y":-0.126},{"c":"FR","i":15,"x":1,"y":-0.138},{"c":"FR","i":16,"x":1.04,"y":-0.125},{"c":"FR","i":17,"x":1.07,"y":-0.092},{"c":"FR","i":18,"x":1.085,"y":-0.057},{"c":"FR","i":19,"x":1.09,"y":-0.036},{"c":"FR","i":20,"x":1.093,"y":0},
{"c":"FL","i":0,"x":-1.093,"y":0},{"c":"FL","i":1,"x":-1.09,"y":0.036},{"c":"FL","i":2,"x":-1.085,"y":0.057},{"c":"FL","i":3,"x":-1.07,"y":0.092},{"c":"FL","i":4,"x":-1.04,"y":0.125},{"c":"FL","i":5,"x":-1,"y":0.138},{"c":"FL","i":6,"x":-0.96,"y":0.126},{"c":"FL","i":7,"x":-0.93,"y":0.099},{"c":"FL","i":8,"x":-0.91,"y":0.065},{"c":"FL","i":9,"x":-0.9,"y":0.031},{"c":"FL","i":10,"x":-0.897,"y":0},{"c":"FL","i":11,"x":-0.9,"y":-0.031},{"c":"FL","i":12,"x":-0.91,"y":-0.065},{"c":"FL","i":13,"x":-0.93,"y":-0.099},{"c":"FL","i":14,"x":-0.96,"y":-0.126},{"c":"FL","i":15,"x":-1,"y":-0.138},{"c":"FL","i":16,"x":-1.04,"y":-0.125},{"c":"FL","i":17,"x":-1.07,"y":-0.092},{"c":"FL","i":18,"x":-1.085,"y":-0.057},{"c":"FL","i":19,"x":-1.09,"y":-0.036},{"c":"FL","i":20,"x":-1.093,"y":0}
]
},
"resolve": {"axis": {"x": "independent", "y": "independent"}},
"layer": [
{
"data": {"name": "field"},
"transform": [
{"calculate": "atan2(-datum.v*140.9, datum.u*239.2)*180/PI", "as": "ang"},
{"calculate": "pow(29*(1-exp(-2.2*sqrt(datum.u*datum.u+datum.v*datum.v))),2)", "as": "sz"}
],
"mark": {"type": "point", "shape": "M0,0L2,0M1.5,-0.3L2,0L1.5,0.3", "filled": false, "strokeWidth": 1, "opacity": 1, "color": "#a8a8a8"},
"encoding": {
"x": {"field": "x", "type": "quantitative", "scale": {"domain": [-2.2, 2.1227], "nice": false, "zero": false},
"axis": {"values": [-2,-1.5,-1,-0.5,0,0.5,1,1.5,2], "grid": true, "gridColor": "#000000", "gridDash": [4,3], "gridWidth": 1, "gridOpacity": 1,
"domain": true, "domainColor": "#000000", "domainWidth": 1, "ticks": true, "tickColor": "#000000", "tickSize": -12, "tickWidth": 1,
"labelPadding": 21, "labelFont": "DejaVu Sans", "labelFontSize": 17, "labelColor": "#000000", "labelFlush": false, "labelOverlap": false,
"labelExpr": "datum.value < 0 ? '-' + format(-datum.value, '~g') : format(datum.value, '~g')",
"title": "x", "titleFont": "DejaVu Sans", "titleFontSize": 17, "titleFontWeight": "normal", "titleColor": "#000000",
"titleX": 524, "titleY": 48, "titleBaseline": "alphabetic", "titleAlign": "center"}},
"y": {"field": "y", "type": "quantitative", "scale": {"domain": [-2.2, 2.2], "nice": false, "zero": false},
"axis": {"values": [-2,-1.5,-1,-0.5,0,0.5,1,1.5,2], "grid": true, "gridColor": "#000000", "gridDash": [7,4], "gridWidth": 1, "gridOpacity": 1,
"domain": true, "domainColor": "#000000", "domainWidth": 1, "ticks": true, "tickColor": "#000000", "tickSize": -12, "tickWidth": 1,
"labelPadding": 22, "labelFont": "DejaVu Sans", "labelFontSize": 17, "labelColor": "#000000", "labelFlush": false, "labelOverlap": false,
"labelExpr": "datum.value < 0 ? '-' + format(-datum.value, '~g') : format(datum.value, '~g')",
"title": "y", "titleFont": "DejaVu Sans", "titleFontSize": 17, "titleFontWeight": "normal", "titleColor": "#000000",
"titleX": -61, "titleY": 310, "titleBaseline": "alphabetic", "titleAlign": "center", "titleAngle": -90}},
"angle": {"field": "ang", "type": "quantitative", "scale": null},
"size": {"field": "sz", "type": "quantitative", "scale": null}
}
},
{
"data": {"name": "traj"},
"mark": {"type": "line", "color": "#0000ff", "strokeWidth": 1.8, "interpolate": "catmull-rom"},
"encoding": {
"x": {"field": "x", "type": "quantitative",
"axis": {"orient": "top", "values": [-2,-1.5,-1,-0.5,0,0.5,1,1.5,2], "labels": false, "grid": false, "domain": true, "domainColor": "#000000", "domainWidth": 1, "ticks": true, "tickColor": "#000000", "tickSize": -12, "tickWidth": 1, "title": null}},
"y": {"field": "y", "type": "quantitative", "axis": null},
"detail": {"field": "c"},
"order": {"field": "i", "type": "quantitative"}
}
},
{
"data": {"values": [{}]},
"mark": {"type": "text", "align": "left", "baseline": "alphabetic", "font": "DejaVu Sans", "fontSize": 17, "color": "#000000"},
"encoding": {"x": {"datum": -2.1707, "type": "quantitative", "axis": null}, "y": {"datum": 2.5336, "type": "quantitative", "axis": null}, "text": {"value": "x ' = y"}}
},
{
"data": {"values": [{}]},
"mark": {"type": "text", "align": "left", "baseline": "alphabetic", "font": "DejaVu Sans", "fontSize": 17, "color": "#000000"},
"encoding": {"x": {"datum": -2.1707, "type": "quantitative", "axis": null}, "y": {"datum": 2.356, "type": "quantitative", "axis": null}, "text": {"value": "y ' = x (b - x x)"}}
},
{
"data": {"values": [{}]},
"mark": {"type": "text", "align": "left", "baseline": "alphabetic", "font": "DejaVu Sans", "fontSize": 17, "color": "#000000"},
"encoding": {"x": {"datum": 1.6754, "type": "quantitative", "axis": null}, "y": {"datum": 2.5407, "type": "quantitative", "axis": null}, "text": {"value": "b = 1"}}
}
]
}
